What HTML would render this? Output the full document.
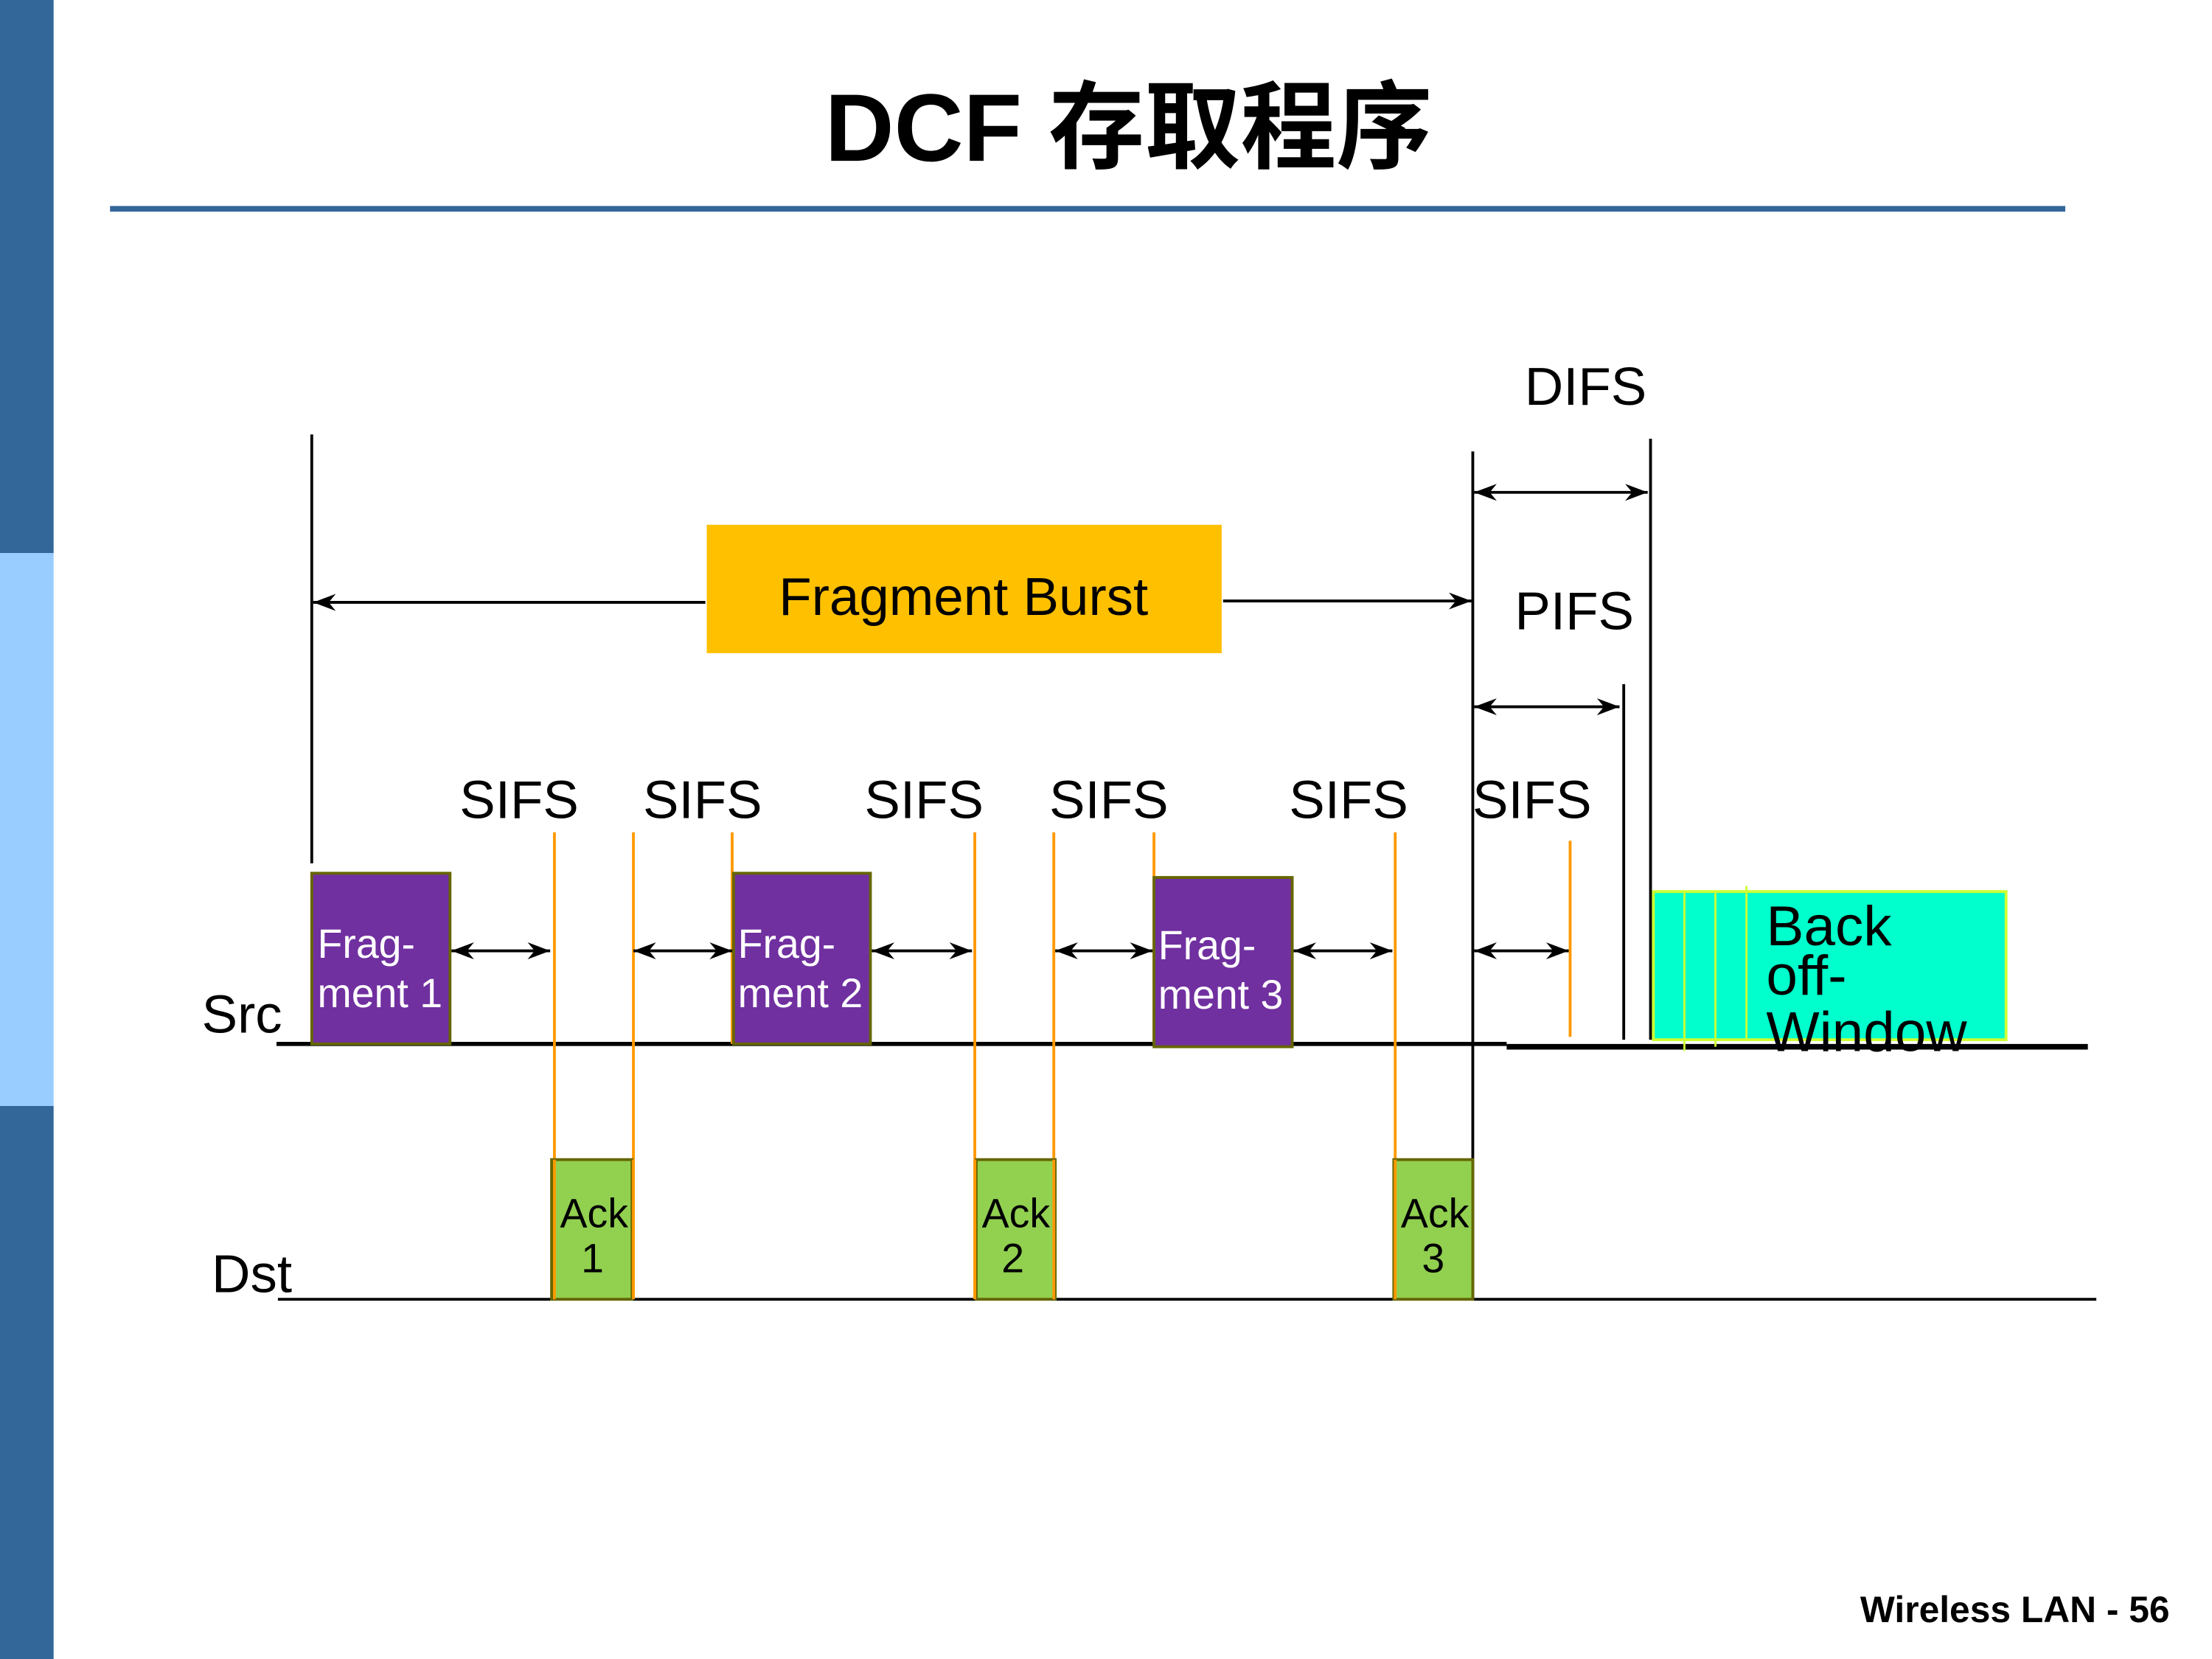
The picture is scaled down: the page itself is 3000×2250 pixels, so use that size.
<!DOCTYPE html>
<html><head><meta charset="utf-8"><style>html,body{margin:0;padding:0;background:#fff}svg{display:block}</style></head>
<body>
<svg width="3000" height="2250" viewBox="0 0 1568 1176" preserveAspectRatio="none" xmlns="http://www.w3.org/2000/svg" font-family="'Liberation Sans','Noto Sans CJK SC',sans-serif">
<defs>
<marker id="a" viewBox="0 0 16 12" refX="16" refY="6" markerWidth="16" markerHeight="12" markerUnits="userSpaceOnUse" orient="auto-start-reverse"><path d="M0,0 L16,6 L0,12 L5,6 Z" fill="#000"/></marker>
<clipPath id="c1"><rect x="221" y="619" width="98" height="121"/></clipPath>
<clipPath id="c2"><rect x="520" y="619" width="97" height="121"/></clipPath>
<clipPath id="c3"><rect x="818" y="622" width="98" height="120"/></clipPath>
<clipPath id="c4"><rect x="391" y="822" width="57" height="99"/></clipPath>
<clipPath id="c5"><rect x="692" y="822" width="56" height="99"/></clipPath>
<clipPath id="c6"><rect x="988" y="822" width="56" height="99"/></clipPath>
</defs>
<rect x="0" y="0" width="38" height="392" fill="#336699"/>
<rect x="0" y="392" width="38" height="392" fill="#99ccff"/>
<rect x="0" y="784" width="38" height="392" fill="#336699"/>
<text x="800" y="114" font-size="68" font-weight="bold" text-anchor="middle">DCF 存取程序</text>
<line x1="78" y1="148" x2="1464" y2="148" stroke="#336699" stroke-width="4"/>

<g stroke="#000" stroke-width="2">
<line x1="221" y1="308" x2="221" y2="612"/>
<line x1="1044" y1="320" x2="1044" y2="921"/>
<line x1="1170" y1="311" x2="1170" y2="737"/>
<line x1="1151" y1="485" x2="1151" y2="737"/>
</g>
<line x1="196" y1="740" x2="1068" y2="740" stroke="#000" stroke-width="3"/>
<line x1="1068" y1="742" x2="1480" y2="742" stroke="#000" stroke-width="4"/>
<line x1="197" y1="921" x2="1486" y2="921" stroke="#000" stroke-width="2"/>

<g stroke="#f90" stroke-width="2">
<line x1="393" y1="590" x2="393" y2="921"/>
<line x1="449" y1="590" x2="449" y2="921"/>
<line x1="519" y1="590" x2="519" y2="740"/>
<line x1="691" y1="590" x2="691" y2="921"/>
<line x1="747" y1="590" x2="747" y2="921"/>
<line x1="818" y1="590" x2="818" y2="740"/>
<line x1="989" y1="590" x2="989" y2="921"/>
<line x1="1113" y1="596" x2="1113" y2="735"/>
</g>

<g fill="#7030a0" stroke="#666600" stroke-width="2">
<rect x="221" y="619" width="98" height="121"/>
<rect x="520" y="619" width="97" height="121"/>
<rect x="818" y="622" width="98" height="120"/>
</g>
<g fill="#fff" font-size="29">
<g clip-path="url(#c1)"><text x="225" y="679">Frag-</text><text x="225" y="714">ment 1</text></g>
<g clip-path="url(#c2)"><text x="523" y="679">Frag-</text><text x="523" y="714">ment 2</text></g>
<g clip-path="url(#c3)"><text x="821" y="680">Frag-</text><text x="821" y="715">ment 3</text></g>
</g>

<g fill="#92d050" stroke="#666600" stroke-width="2">
<rect x="391" y="822" width="57" height="99"/>
<rect x="692" y="822" width="56" height="99"/>
<rect x="988" y="822" width="56" height="99"/>
</g>
<g stroke="#f90" stroke-width="2">
<line x1="393" y1="822" x2="393" y2="921"/><line x1="449" y1="822" x2="449" y2="921"/>
<line x1="691" y1="822" x2="691" y2="921"/><line x1="747" y1="822" x2="747" y2="921"/>
<line x1="989" y1="822" x2="989" y2="921"/>
</g>
<g font-size="29">
<g clip-path="url(#c4)"><text x="397" y="870">Ack</text><text x="420" y="902" text-anchor="middle">1</text></g>
<g clip-path="url(#c5)"><text x="696" y="870">Ack</text><text x="718" y="902" text-anchor="middle">2</text></g>
<g clip-path="url(#c6)"><text x="993" y="870">Ack</text><text x="1016" y="902" text-anchor="middle">3</text></g>
</g>

<g stroke="#000" stroke-width="2" marker-start="url(#a)" marker-end="url(#a)">
<line x1="320" y1="674" x2="390" y2="674"/>
<line x1="449" y1="674" x2="519" y2="674"/>
<line x1="618" y1="674" x2="689" y2="674"/>
<line x1="748" y1="674" x2="817" y2="674"/>
<line x1="917" y1="674" x2="987" y2="674"/>
<line x1="1045" y1="674" x2="1112" y2="674"/>
<line x1="1045" y1="349" x2="1168" y2="349"/>
<line x1="1045" y1="501" x2="1148" y2="501"/>
</g>
<line x1="500" y1="427" x2="222" y2="427" stroke="#000" stroke-width="2" marker-end="url(#a)"/>
<line x1="867" y1="426" x2="1043" y2="426" stroke="#000" stroke-width="2" marker-end="url(#a)"/>

<rect x="501" y="372" width="365" height="91" fill="#ffc000"/>
<text x="683" y="436" font-size="38" text-anchor="middle">Fragment Burst</text>

<g font-size="38" text-anchor="middle">
<text x="368" y="580">SIFS</text><text x="498" y="580">SIFS</text>
<text x="655" y="580">SIFS</text><text x="786" y="580">SIFS</text>
<text x="956" y="580">SIFS</text><text x="1086" y="580">SIFS</text>
<text x="1124" y="287">DIFS</text><text x="1116" y="446">PIFS</text>
</g>

<rect x="1172" y="632" width="250" height="105" fill="#00ffcc" stroke="#ccff33" stroke-width="2"/>
<g stroke="#ccff33" stroke-width="1.5">
<line x1="1194" y1="632" x2="1194" y2="745"/><line x1="1216" y1="632" x2="1216" y2="742"/><line x1="1238" y1="628" x2="1238" y2="737"/>
</g>
<g font-size="40">
<text x="1252" y="670">Back</text><text x="1252" y="705">off-</text><text x="1252" y="745">Window</text>
</g>

<text x="143" y="732" font-size="38">Src</text>
<text x="150" y="916" font-size="38">Dst</text>
<text x="1538" y="1150" font-size="26" font-weight="bold" text-anchor="end">Wireless LAN - 56</text>
</svg>
</body></html>
